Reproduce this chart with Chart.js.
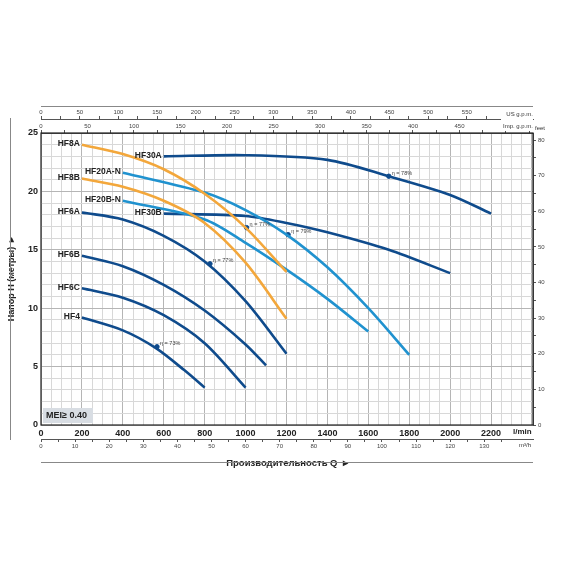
<!DOCTYPE html>
<html lang="ru">
<head>
<meta charset="UTF-8">
<title>Pump curves</title>
<script src="https://cdn.jsdelivr.net/npm/chart.js"></script>
<style>
  html, body { margin: 0; background: #fff; }
  #wrap { width: 570px; height: 570px; }
</style>
</head>
<body>
<div id="wrap"><canvas id="c"></canvas></div>
<script>
// flow in l/min, head in m
const q = {
  HF8A:    [200, 400, 600, 800, 1000, 1200],
  HF8B:    [200, 400, 600, 800, 1000, 1200],
  HF6A:    [200, 400, 600, 800, 1000, 1200],
  HF6B:    [200, 400, 600, 800, 1000, 1100],
  HF6C:    [200, 400, 600, 800, 1000],
  HF4:     [200, 400, 560, 700, 800],
  'HF20A-N': [400, 800, 1000, 1200, 1400, 1600, 1800],
  'HF20B-N': [400, 800, 1000, 1200, 1400, 1600],
  HF30A:   [600, 1000, 1400, 1700, 2000, 2200],
  HF30B:   [600, 1000, 1200, 1400, 1700, 2000]
};
const h = {
  HF8A:    [24.0, 23.2, 21.9, 19.8, 16.9, 13.1],
  HF8B:    [21.1, 20.4, 19.2, 17.3, 13.9, 9.1],
  HF6A:    [18.2, 17.6, 16.2, 14.0, 10.6, 6.1],
  HF6B:    [14.5, 13.6, 12.0, 9.8, 6.9, 5.1],
  HF6C:    [11.7, 10.9, 9.4, 7.0, 3.2],
  HF4:     [9.2, 8.1, 6.6, 4.7, 3.2],
  'HF20A-N': [21.6, 19.9, 18.4, 16.3, 13.5, 10.0, 6.0],
  'HF20B-N': [19.2, 17.6, 15.6, 13.3, 10.8, 8.0],
  HF30A:   [23.0, 23.1, 22.7, 21.3, 19.7, 18.1],
  HF30B:   [18.1, 17.9, 17.3, 16.5, 15.0, 13.0]
};
const colors = {
  HF8A: '#f3a73b', HF8B: '#f3a73b',
  HF6A: '#0f4b8c', HF6B: '#0f4b8c', HF6C: '#0f4b8c', HF4: '#0f4b8c',
  'HF20A-N': '#2092cf', 'HF20B-N': '#2092cf',
  HF30A: '#0f4b8c', HF30B: '#0f4b8c'
};
// efficiency points
const etaQ = [1005, 826, 567, 1208, 1700];
const etaH = [16.9, 13.8, 6.7, 16.3, 21.3];
const etaText = ['η = 77%', 'η = 77%', 'η = 73%', 'η = 79%', 'η = 78%'];

const Q_MAX = 2405;
const LPM_M3H = 1000 / 60, LPM_US = 3.785, LPM_IMP = 4.546, M_FT = 3.2808;

const datasets = Object.keys(q).map(function(k) {
  return {
    label: k,
    data: q[k].map(function(x, i) { return { x: x, y: h[k][i] }; }),
    borderColor: colors[k],
    borderWidth: 2.6,
    showLine: true,
    pointRadius: 0,
    tension: 0.3,
    xAxisID: 'x', yAxisID: 'y'
  };
});
datasets.push({
  label: 'eta',
  data: etaQ.map(function(x, i) { return { x: x, y: etaH[i] }; }),
  showLine: false,
  pointRadius: 2.2,
  pointBackgroundColor: '#0f4b8c',
  pointBorderColor: '#0f4b8c',
  xAxisID: 'x', yAxisID: 'y'
});

const extras = {
  id: 'extras',
  afterDatasetsDraw: function(chart) {
    const c = chart.ctx, xs = chart.scales.x, ys = chart.scales.y, a = chart.chartArea;
    c.save();
    c.font = 'bold 8.5px "Liberation Sans", Arial';
    c.fillStyle = '#222';
    c.textAlign = 'right'; c.textBaseline = 'middle';
    Object.keys(q).forEach(function(k) {
      c.fillText(k, xs.getPixelForValue(q[k][0]) - 2, ys.getPixelForValue(h[k][0]) - 1);
    });
    c.font = '5.5px "Liberation Sans", Arial';
    c.fillStyle = '#444';
    c.textAlign = 'left';
    etaText.forEach(function(t, i) {
      c.fillText(t, xs.getPixelForValue(etaQ[i]) + 3, ys.getPixelForValue(etaH[i]) - 3);
    });
    // frame
    c.strokeStyle = '#222'; c.lineWidth = 1.2;
    c.strokeRect(a.left, a.top, a.right - a.left, a.bottom - a.top);
    // MEI box
    c.fillStyle = '#d8dde3';
    c.fillRect(a.left + 2, a.bottom - 17, 50, 15);
    c.fillStyle = '#222';
    c.font = 'bold 9px "Liberation Sans", Arial';
    c.fillText('MEI≥ 0.40', a.left + 5, a.bottom - 9.5);
    // unit labels
    c.font = '6px "Liberation Sans", Arial';
    c.textAlign = 'right';
    c.fillStyle = '#fff';
    c.fillRect(a.right - 32, 109, 32, 22);
    c.fillStyle = '#333';
    c.fillText('US g.p.m.', a.right, 114);
    c.fillText('Imp. g.p.m.', a.right, 126);
    c.textAlign = 'left';
    c.fillText('feet', a.right + 2, a.top - 5);
    c.fillStyle = '#fff';
    c.fillRect(a.right - 16, 440, 16, 9);
    c.fillStyle = '#333';
    c.fillText('m³/h', a.right - 14, 445);
    c.fillStyle = '#fff';
    c.fillRect(a.right - 24, 427, 26, 10);
    c.fillStyle = '#222';
    c.font = 'bold 8px "Liberation Sans", Arial';
    c.fillText('l/min', a.right - 20, 432);
    // outer decoration lines
    c.strokeStyle = '#888'; c.lineWidth = 1;
    c.beginPath();
    c.moveTo(41, 106.5); c.lineTo(533, 106.5);
    c.moveTo(41, 462.5); c.lineTo(533, 462.5);
    c.moveTo(10.5, 118); c.lineTo(10.5, 440);
    c.stroke();
    c.restore();
  }
};

function fixH(hgt) { return function(s) { s.height = hgt; }; }
function fixW(w) { return function(s) { s.width = w; }; }

new Chart(document.getElementById('c'), {
  type: 'scatter',
  data: { datasets: datasets },
  options: {
    responsive: true,
    maintainAspectRatio: false,
    animation: false,
    layout: { padding: { top: 104, bottom: 97, left: 6, right: 0 } },
    plugins: { legend: { display: false }, tooltip: { enabled: false } },
    scales: {
      x: {
        type: 'linear', position: 'bottom', min: 0, max: Q_MAX,
        afterFit: fixH(14),
        afterBuildTicks: function(s) {
          const t = []; for (let v = 0; v <= 2400; v += 50) t.push({ value: v }); s.ticks = t;
        },
        grid: {
          color: function(ctx) { return ctx.tick.value % 200 === 0 ? '#b5b5b5' : '#d8d8d8'; },
          drawTicks: false
        },
        border: { display: false },
        ticks: {
          autoSkip: false, maxRotation: 0, padding: 3,
          font: { size: 9, weight: 'bold', family: 'Liberation Sans' }, color: '#222',
          callback: function(v) { return (v % 200 === 0 && v <= 2200) ? v : ''; }
        }
      },
      xm3: {
        type: 'linear', position: 'bottom', min: 0, max: Q_MAX / LPM_M3H,
        afterFit: fixH(34),
        afterBuildTicks: function(s) {
          const t = []; for (let v = 0; v <= 140; v += 5) t.push({ value: v }); s.ticks = t;
        },
        grid: { drawOnChartArea: false, tickLength: 3, color: '#555' },
        border: { color: '#555' },
        ticks: {
          autoSkip: false, maxRotation: 0, padding: 1,
          font: { size: 6, family: 'Liberation Sans' }, color: '#444',
          callback: function(v) { return (v % 10 === 0 && v <= 130) ? v : ''; }
        },
        title: {
          display: true, text: 'Производительность Q  ▸', padding: { top: 0 },
          font: { size: 9.5, weight: 'bold', family: 'Liberation Sans' }, color: '#222'
        }
      },
      ximp: {
        type: 'linear', position: 'top', min: 0, max: Q_MAX / LPM_IMP,
        afterFit: fixH(14),
        afterBuildTicks: function(s) {
          const t = []; for (let v = 0; v <= 525; v += 25) t.push({ value: v }); s.ticks = t;
        },
        grid: { drawOnChartArea: false, tickLength: 3, color: '#555' },
        border: { color: '#555' },
        ticks: {
          autoSkip: false, maxRotation: 0, padding: 0,
          font: { size: 6, family: 'Liberation Sans' }, color: '#444',
          callback: function(v) { return v % 50 === 0 && v <= 450 ? v : ''; }
        }
      },
      xus: {
        type: 'linear', position: 'top', min: 0, max: Q_MAX / LPM_US,
        afterFit: fixH(15),
        afterBuildTicks: function(s) {
          const t = []; for (let v = 0; v <= 625; v += 25) t.push({ value: v }); s.ticks = t;
        },
        grid: { drawOnChartArea: false, tickLength: 3, color: '#555' },
        border: { color: '#555' },
        ticks: {
          autoSkip: false, maxRotation: 0, padding: 0,
          font: { size: 6, family: 'Liberation Sans' }, color: '#444',
          callback: function(v) { return v % 50 === 0 && v <= 550 ? v : ''; }
        }
      },
      y: {
        type: 'linear', position: 'left', min: 0, max: 25,
        afterFit: fixW(35),
        afterBuildTicks: function(s) {
          const t = []; for (let v = 0; v <= 25; v += 1) t.push({ value: v }); s.ticks = t;
        },
        grid: {
          color: function(ctx) { return ctx.tick.value % 5 === 0 ? '#b5b5b5' : '#d8d8d8'; },
          drawTicks: false
        },
        border: { display: false },
        ticks: {
          autoSkip: false, padding: 3,
          font: { size: 9, weight: 'bold', family: 'Liberation Sans' }, color: '#222',
          callback: function(v) { return v % 5 === 0 ? v : ''; }
        },
        title: {
          display: true, text: 'Напор H (метры)  ▸', padding: 0,
          font: { size: 9, weight: 'bold', family: 'Liberation Sans' }, color: '#222'
        }
      },
      yft: {
        type: 'linear', position: 'right', min: 0, max: 25 * M_FT,
        afterFit: fixW(37),
        afterBuildTicks: function(s) {
          const t = []; for (let v = 0; v <= 80; v += 5) t.push({ value: v }); s.ticks = t;
        },
        grid: { drawOnChartArea: false, tickLength: 3, color: '#555' },
        border: { color: '#555' },
        ticks: {
          autoSkip: false, padding: 2,
          font: { size: 6, family: 'Liberation Sans' }, color: '#444',
          callback: function(v) { return v % 10 === 0 ? v : ''; }
        }
      }
    }
  },
  plugins: [extras]
});
</script>
</body>
</html>
